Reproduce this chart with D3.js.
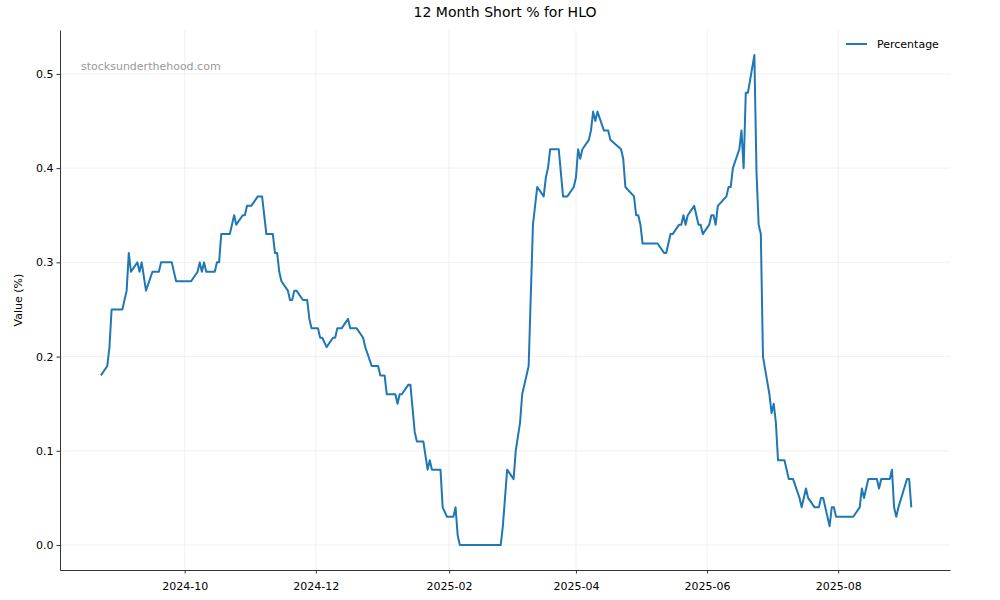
<!DOCTYPE html>
<html>
<head>
<meta charset="utf-8">
<script src="https://cdn.jsdelivr.net/npm/d3@7"></script>
<style>
  body { margin: 0; background: #fff; }
  text { font-family: "DejaVu Sans", sans-serif; }
</style>
</head>
<body>
<svg id="chart" width="1000" height="600"></svg>
<script>
// dates and short % values
var dates = [
  "2024-08-23","2024-08-26","2024-08-27","2024-08-28","2024-09-02","2024-09-04","2024-09-05","2024-09-06",
  "2024-09-09","2024-09-10","2024-09-11","2024-09-13","2024-09-16","2024-09-19","2024-09-20","2024-09-25",
  "2024-09-27","2024-10-04","2024-10-07","2024-10-08","2024-10-09","2024-10-10","2024-10-11","2024-10-15",
  "2024-10-16","2024-10-17","2024-10-18","2024-10-22","2024-10-24","2024-10-25","2024-10-28","2024-10-29",
  "2024-10-30","2024-11-01","2024-11-04","2024-11-06","2024-11-08","2024-11-11","2024-11-12","2024-11-13",
  "2024-11-14","2024-11-15","2024-11-18","2024-11-19","2024-11-20","2024-11-21","2024-11-22","2024-11-25",
  "2024-11-27","2024-11-28","2024-11-29","2024-12-02","2024-12-03","2024-12-04","2024-12-06","2024-12-09",
  "2024-12-10","2024-12-11","2024-12-13","2024-12-16","2024-12-17","2024-12-20","2024-12-23","2024-12-24",
  "2024-12-27","2024-12-30","2024-12-31","2025-01-02","2025-01-03","2025-01-07","2025-01-08","2025-01-09",
  "2025-01-10","2025-01-13","2025-01-14","2025-01-16","2025-01-17","2025-01-20","2025-01-22","2025-01-23",
  "2025-01-24","2025-01-28","2025-01-29","2025-01-31","2025-02-03","2025-02-04","2025-02-05","2025-02-06",
  "2025-02-25","2025-02-26","2025-02-28","2025-03-03","2025-03-04","2025-03-06","2025-03-07","2025-03-10",
  "2025-03-12","2025-03-14","2025-03-17","2025-03-18","2025-03-19","2025-03-20","2025-03-24","2025-03-26",
  "2025-03-28","2025-03-31","2025-04-01","2025-04-02","2025-04-03","2025-04-04","2025-04-07","2025-04-08",
  "2025-04-09","2025-04-10","2025-04-11","2025-04-14","2025-04-16","2025-04-17","2025-04-22","2025-04-23",
  "2025-04-24","2025-04-28","2025-04-29","2025-04-30","2025-05-01","2025-05-02","2025-05-09","2025-05-12",
  "2025-05-13","2025-05-15","2025-05-16","2025-05-19","2025-05-20","2025-05-21","2025-05-22","2025-05-23",
  "2025-05-26","2025-05-28","2025-05-29","2025-05-30","2025-06-02","2025-06-03","2025-06-04","2025-06-05",
  "2025-06-06","2025-06-10","2025-06-11","2025-06-12","2025-06-13","2025-06-16","2025-06-17","2025-06-18",
  "2025-06-19","2025-06-20","2025-06-23","2025-06-24","2025-06-25","2025-06-26","2025-06-27","2025-06-30",
  "2025-07-01","2025-07-02","2025-07-03","2025-07-04","2025-07-07","2025-07-09","2025-07-11","2025-07-14",
  "2025-07-15","2025-07-17","2025-07-18","2025-07-21","2025-07-23","2025-07-24","2025-07-25","2025-07-28",
  "2025-07-29","2025-07-30","2025-07-31","2025-08-08","2025-08-11","2025-08-12","2025-08-13","2025-08-15",
  "2025-08-19","2025-08-20","2025-08-21","2025-08-25","2025-08-26","2025-08-27","2025-08-28","2025-08-29",
  "2025-09-02","2025-09-03","2025-09-04"
];
var values = [
  0.18,0.19,0.21,0.25,0.25,0.27,0.31,0.29,
  0.30,0.29,0.30,0.27,0.29,0.29,0.30,0.30,
  0.28,0.28,0.29,0.30,0.29,0.30,0.29,0.29,
  0.30,0.30,0.33,0.33,0.35,0.34,0.35,0.35,
  0.36,0.36,0.37,0.37,0.33,0.33,0.31,0.31,
  0.29,0.28,0.27,0.26,0.26,0.27,0.27,0.26,
  0.26,0.24,0.23,0.23,0.22,0.22,0.21,0.22,
  0.22,0.23,0.23,0.24,0.23,0.23,0.22,0.21,
  0.19,0.19,0.18,0.18,0.16,0.16,0.15,0.16,
  0.16,0.17,0.17,0.12,0.11,0.11,0.08,0.09,
  0.08,0.08,0.04,0.03,0.03,0.04,0.01,0.00,
  0.00,0.02,0.08,0.07,0.10,0.13,0.16,0.19,
  0.34,0.38,0.37,0.39,0.40,0.42,0.42,0.37,
  0.37,0.38,0.39,0.42,0.41,0.42,0.43,0.44,
  0.46,0.45,0.46,0.44,0.44,0.43,0.42,0.41,
  0.38,0.37,0.35,0.35,0.34,0.32,0.32,0.31,
  0.31,0.33,0.33,0.34,0.34,0.35,0.34,0.35,
  0.36,0.34,0.34,0.33,0.34,0.35,0.35,0.34,
  0.36,0.37,0.38,0.38,0.40,0.42,0.44,0.40,
  0.48,0.48,0.52,0.395,0.34,0.33,0.20,0.16,
  0.14,0.15,0.13,0.09,0.09,0.07,0.07,0.05,
  0.04,0.06,0.05,0.04,0.04,0.05,0.05,0.02,
  0.04,0.04,0.03,0.03,0.04,0.06,0.05,0.07,
  0.07,0.06,0.07,0.07,0.08,0.04,0.03,0.04,
  0.07,0.07,0.04
];
var yTicks = [0.0, 0.1, 0.2, 0.3, 0.4, 0.5];
var xTicks = ["2024-10-01","2024-12-01","2025-02-01","2025-04-01","2025-06-01","2025-08-01"];

var parse = d3.timeParse("%Y-%m-%d");
var data = dates.map(function(d, i) { return { date: parse(d), value: values[i] }; });

var margin = { top: 30, right: 50, bottom: 30, left: 60 },
    width = 1000 - margin.left - margin.right,
    height = 600 - margin.top - margin.bottom;

var svg = d3.select("#chart");
var g = svg.append("g").attr("transform", "translate(" + margin.left + "," + margin.top + ")");

var x = d3.scaleTime()
  .domain([parse("2024-08-04"), parse("2025-09-22")])
  .range([0, width]);
var y = d3.scaleLinear()
  .domain([-0.0265, 0.5466])
  .range([height, 0]);

// grid
g.append("g").selectAll("line").data(yTicks).enter().append("line")
  .attr("x1", 0).attr("x2", width)
  .attr("y1", function(d) { return y(d); }).attr("y2", function(d) { return y(d); })
  .attr("stroke", "#eeeeee").attr("stroke-width", 0.8);
g.append("g").selectAll("line").data(xTicks).enter().append("line")
  .attr("y1", 0).attr("y2", height)
  .attr("x1", function(d) { return x(parse(d)); }).attr("x2", function(d) { return x(parse(d)); })
  .attr("stroke", "#eeeeee").attr("stroke-width", 0.8);

// axes
var xAxis = g.append("g").attr("transform", "translate(0," + height + ")")
  .call(d3.axisBottom(x).tickValues(xTicks.map(parse)).tickFormat(d3.timeFormat("%Y-%m")).tickSize(3.5).tickSizeOuter(0));
var yAxis = g.append("g")
  .call(d3.axisLeft(y).tickValues(yTicks).tickFormat(d3.format(".1f")).tickSize(3.5).tickSizeOuter(0));
[xAxis, yAxis].forEach(function(a) {
  a.selectAll("text").attr("font-size", 11).attr("fill", "#000").style("font-family", "DejaVu Sans");
  a.select(".domain").attr("stroke", "#333");
  a.selectAll(".tick line").attr("stroke", "#333");
});
xAxis.selectAll("text").attr("dy", "1.2em");

// line
var line = d3.line()
  .x(function(d) { return x(d.date); })
  .y(function(d) { return y(d.value); });
g.append("path").datum(data)
  .attr("fill", "none")
  .attr("stroke", "#1f77b4")
  .attr("stroke-width", 2)
  .attr("stroke-linejoin", "round")
  .attr("d", line);

// texts
svg.append("text").attr("x", 505).attr("y", 17).attr("text-anchor", "middle")
  .attr("font-size", 14).text("12 Month Short % for HLO");
svg.append("text").attr("transform", "translate(22," + (margin.top + height / 2) + ") rotate(-90)")
  .attr("text-anchor", "middle").attr("font-size", 11).text("Value (%)");
svg.append("text").attr("x", 81).attr("y", 70).attr("font-size", 11)
  .attr("fill", "#999").text("stocksunderthehood.com");

// legend
svg.append("line").attr("x1", 846).attr("x2", 867).attr("y1", 44).attr("y2", 44)
  .attr("stroke", "#1f77b4").attr("stroke-width", 2);
svg.append("text").attr("x", 877).attr("y", 48).attr("font-size", 11).text("Percentage");
</script>
</body>
</html>
